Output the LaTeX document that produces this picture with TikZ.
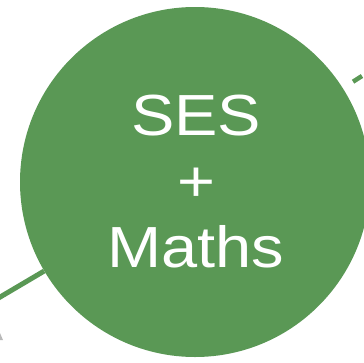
\documentclass[tikz,border=0pt]{standalone}
\usepackage{fontspec}
\setmainfont{Liberation Sans}
\definecolor{sesgreen}{RGB}{90,152,85}
\tikzset{
  bubble/.style={circle,fill=sesgreen,inner sep=0pt,minimum size=350pt},
  link/.style={draw=sesgreen,line width=5pt},
}
\begin{document}
\begin{tikzpicture}[x=1pt,y=-1pt]
      \useasboundingbox (0,0) rectangle (364,362);
      \clip (0,0) rectangle (364,362);

      \node[bubble] (ses) at (195,182) {};
      \node[text=white,align=center,font=\fontsize{58}{66}\selectfont,
            xscale=1.12,transform shape] (sestext) at (196,182) {SES\\+\\Maths};

      \coordinate (lb) at (-10,303);
      \coordinate (rt) at (362,76);
      \draw[link] (lb) -- (ses);
      \draw[link,line width=4.5pt,shorten >=12pt] (rt) -- (ses);

      % bit of an arrow tip at the edge
      \coordinate (tip) at (0,333);
      \fill[gray!55] (tip) -- ++(3,7) -- ++(-3,0) -- cycle;
    \end{tikzpicture}
\end{document}
